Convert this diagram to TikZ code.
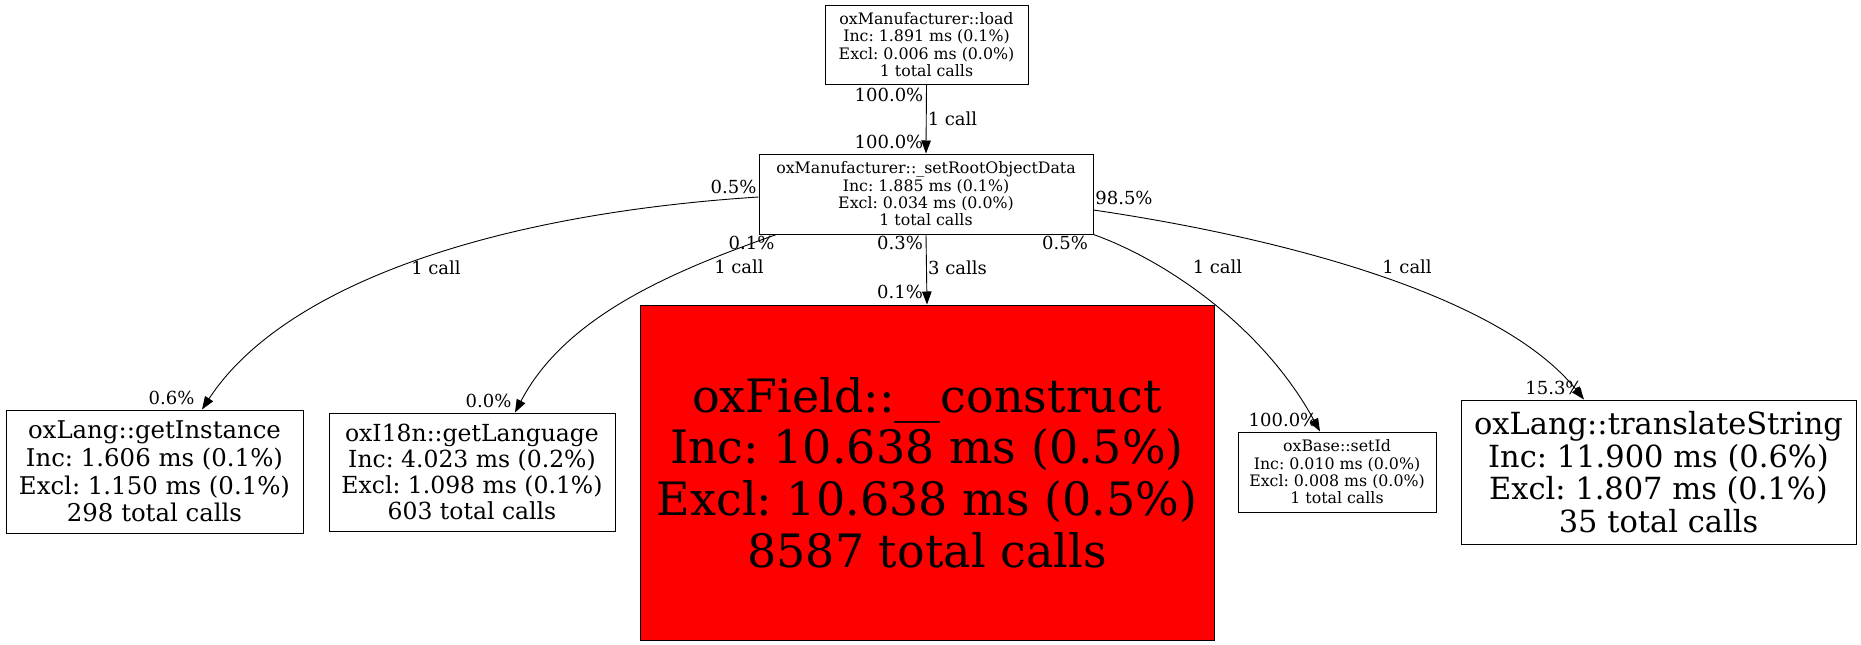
\documentclass[tikz,border=0pt]{standalone}
\usepackage{fontspec}
\setmainfont{DejaVu Serif}
\usetikzlibrary{arrows.meta}
\frenchspacing
\tikzstyle{fnbox}=[draw=black,line width=1pt,rectangle,align=center,inner sep=0pt]
\tikzstyle{hotbox}=[fnbox,fill=red]
\tikzstyle{callarrow}=[-{Triangle[length=13pt,width=9.5pt]},line width=0.9pt]
\tikzstyle{pct}=[inner sep=0pt,font=\fontsize{18}{20}\selectfont]
\newcommand{\fs}[2]{\fontsize{#1}{#2}\selectfont}% Syntax: \fs{size}{skip}

\begin{document}
\begin{tikzpicture}[x=1pt,y=-1pt]
\useasboundingbox (0,0) rectangle (1861,645);
% function boxes
\node[fnbox,minimum width=203pt,minimum height=79pt,font=\fs{15.8}{17.3}] (load) at (926.5,44.5)
  {oxManufacturer::load\\Inc: 1.891 ms (0.1\%)\\Excl: 0.006 ms (0.0\%)\\1 total calls};
\node[fnbox,minimum width=334pt,minimum height=80pt,font=\fs{15.8}{17.3}] (setroot) at (926,194)
  {oxManufacturer::\_setRootObjectData\\Inc: 1.885 ms (0.1\%)\\Excl: 0.034 ms (0.0\%)\\1 total calls};
\node[fnbox,minimum width=297pt,minimum height=123pt,font=\fs{24.4}{27.7}] (getinst) at (154.5,471.5)
  {oxLang::getInstance\\Inc: 1.606 ms (0.1\%)\\Excl: 1.150 ms (0.1\%)\\298 total calls};
\node[fnbox,minimum width=286pt,minimum height=118pt,font=\fs{23.5}{26}] (getlang) at (472,472)
  {oxI18n::getLanguage\\Inc: 4.023 ms (0.2\%)\\Excl: 1.098 ms (0.1\%)\\603 total calls};
\node[hotbox,minimum width=574pt,minimum height=335pt,font=\fs{46}{51.7}] (field) at (927,472.5)
  {oxField::\_\_construct\\Inc: 10.638 ms (0.5\%)\\Excl: 10.638 ms (0.5\%)\\8587 total calls};
\node[fnbox,minimum width=198pt,minimum height=80pt,font=\fs{15.8}{17.3}] (setid) at (1337,472)
  {oxBase::setId\\Inc: 0.010 ms (0.0\%)\\Excl: 0.008 ms (0.0\%)\\1 total calls};
\node[fnbox,minimum width=395pt,minimum height=144pt,font=\fs{30.5}{32.7}] (transl) at (1658.5,472)
  {oxLang::translateString\\Inc: 11.900 ms (0.6\%)\\Excl: 1.807 ms (0.1\%)\\35 total calls};

% calls
\draw[callarrow] (load.south) -- (setroot.north);
\draw[callarrow] ([yshift=-3pt]setroot.west) .. controls (480,215) and (280,290) .. ([xshift=47.5pt]getinst.north);
\draw[callarrow] ([xshift=18pt]setroot.south west) .. controls (670,272) and (565,317) .. ([xshift=43pt]getlang.north);
\draw[callarrow] (setroot.south) -- (field.north);
\draw[callarrow] (setroot.south east) .. controls (1170,262) and (1265,330) .. ([xshift=-17pt]setid.north);
\draw[callarrow] ([yshift=-16pt]setroot.east) .. controls (1283,238) and (1500,295) .. ([xshift=-74.5pt]transl.north);

% edge labels
\node[pct] (lt1) at (889,95) {100.0\%};
\node[pct] (lc1) at (952.5,119) {1 call};
\node[pct] (lh1) at (889,142) {100.0\%};
\node[pct] (lt2) at (733.5,187) {0.5\%};
\node[pct] (lc2) at (436,268) {1 call};
\node[pct] (lh2) at (171.5,398) {0.6\%};
\node[pct] (lt3) at (751.5,243) {0.1\%};
\node[pct] (lc3) at (739,267) {1 call};
\node[pct] (lh3) at (488.5,401) {0.0\%};
\node[pct] (lt4) at (900,243) {0.3\%};
\node[pct] (lc4) at (957.5,268) {3 calls};
\node[pct] (lh4) at (900,292) {0.1\%};
\node[pct] (lt5) at (1065,243) {0.5\%};
\node[pct] (lc5) at (1217.5,267) {1 call};
\node[pct] (lh5) at (1283,420) {100.0\%};
\node[pct] (lt6) at (1124,198) {98.5\%};
\node[pct] (lc6) at (1407,267) {1 call};
\node[pct] (lh6) at (1554,388) {15.3\%};
\end{tikzpicture}
\end{document}
